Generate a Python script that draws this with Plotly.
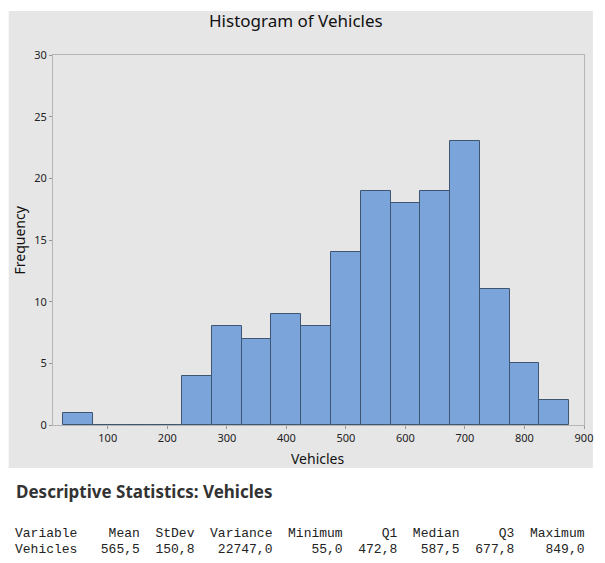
import plotly.graph_objects as go

# Histogram counts per bin (bin width 50)
bin_centers = [50, 100, 150, 200, 250, 300, 350, 400, 450, 500, 550, 600, 650, 700, 750, 800, 850]
counts = [1, 0, 0, 0, 4, 8, 7, 9, 8, 14, 19, 18, 19, 23, 11, 5, 2]

x_ticks = [100, 200, 300, 400, 500, 600, 700, 800, 900]
y_ticks = [0, 5, 10, 15, 20, 25, 30]

# Descriptive statistics table
stat_names = ["Mean", "StDev", "Variance", "Minimum", "Q1", "Median", "Q3", "Maximum"]
stat_values = ["565,5", "150,8", "22747,0", "55,0", "472,8", "587,5", "677,8", "849,0"]
col_widths = [8, 7, 10, 9, 7, 8, 7, 9]

header = "Variable" + "".join(n.rjust(w) for n, w in zip(stat_names, col_widths))
row = "Vehicles" + "".join(v.rjust(w) for v, w in zip(stat_values, col_widths))

# Page body has an 8px margin, so the figure is drawn 8px smaller
OFF = 8
W, H = 605 - OFF, 563 - OFF
L, R, T, B = 53 - OFF, 592 - OFF, 55 - OFF, 425 - OFF


# pixel (as seen in the page) -> paper coordinates
def px(x):
    return (x - OFF - L) / (R - L)


def py(y):
    return (B - (y - OFF)) / (B - T)


fig = go.Figure()
fig.add_trace(go.Bar(
    x=bin_centers, y=counts, width=50,
    marker=dict(color='#7BA4DA', line=dict(color='#3E5673', width=1)),
    showlegend=False, hoverinfo='x+y'
))

# Grey Minitab panel behind the graph
fig.add_shape(type='rect', xref='paper', yref='paper',
              x0=px(8), x1=px(601), y0=py(468), y1=py(11),
              fillcolor='#E6E6E6', line=dict(width=0), layer='below')

fig.update_layout(
    width=W, height=H,
    margin=dict(l=L, r=W - R, t=T, b=H - B),
    paper_bgcolor='white', plot_bgcolor='white',
    font=dict(family='Noto Sans', color='#222'),
    bargap=0,
)
fig.update_xaxes(range=[8, 900], tickvals=x_ticks, ticks='outside', ticklen=3,
                 tickcolor='#999', showgrid=False, zeroline=False,
                 showline=True, linecolor='#B5B5B5', mirror=True,
                 tickfont=dict(size=11, color='#222'))
fig.update_yaxes(range=[0, 30], tickvals=y_ticks, ticks='outside', ticklen=3,
                 tickcolor='#999', showgrid=False, zeroline=False,
                 showline=True, linecolor='#B5B5B5', mirror=True,
                 tickfont=dict(size=11, color='#222'))


def label(text, x, y, size, anchor='center', angle=0, family='Noto Sans', color='#111'):
    fig.add_annotation(text=text, xref='paper', yref='paper',
                       x=px(x), y=py(y), xanchor=anchor, yanchor='middle',
                       showarrow=False, textangle=angle,
                       font=dict(family=family, size=size, color=color))


# Texts
label('Histogram of Vehicles', 300, 20, 17)
label('Vehicles', 322, 458, 14)
label('Frequency', 18, 240, 14, angle=-90)
label('<b>Descriptive Statistics: Vehicles</b>', 13, 491, 17, anchor='left', color='#333')
label(header.replace(' ', '&nbsp;'), 12, 533, 13, anchor='left', family='Liberation Mono', color='#222')
label(row.replace(' ', '&nbsp;'), 12, 549, 13, anchor='left', family='Liberation Mono', color='#222')

fig.write_html("out.html")
